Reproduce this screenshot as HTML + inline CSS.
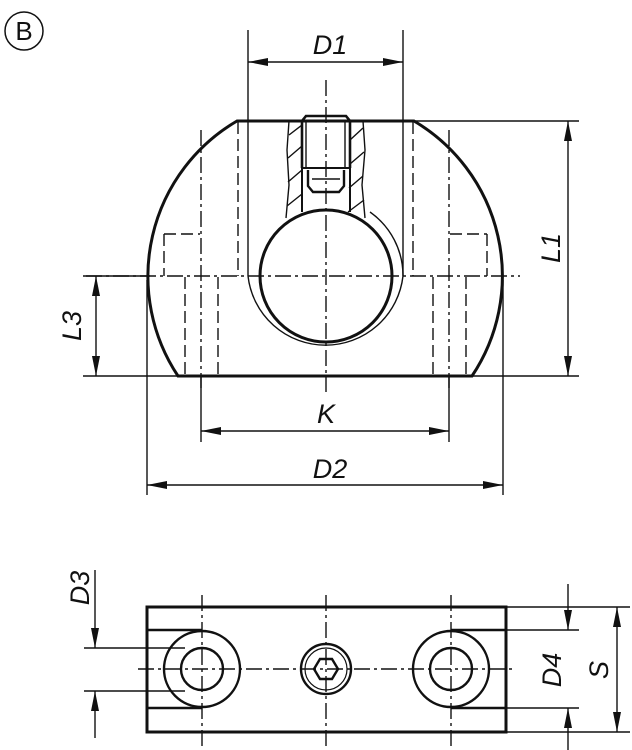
<!DOCTYPE html>
<html><head><meta charset="utf-8"><style>
html,body{margin:0;padding:0;background:#fff;}
svg{display:block;}
text{font-family:"Liberation Sans",sans-serif;font-style:italic;fill:#111;}
</style></head><body>
<svg width="632" height="750" viewBox="0 0 632 750" xmlns="http://www.w3.org/2000/svg">
<defs>
<marker id="a" viewBox="0 0 20 8" refX="20" refY="4" markerWidth="20" markerHeight="8" markerUnits="userSpaceOnUse" orient="auto-start-reverse"><path d="M0,0 L20,4 L0,8 z" fill="#111"/></marker>
</defs>
<g fill="none" stroke="#111">
<circle cx="24" cy="31" r="19" stroke-width="1.5"/>
<g stroke-width="1.4">
<line x1="248" y1="30" x2="248" y2="276"/>
<line x1="403" y1="30" x2="403" y2="276"/>
<line x1="248" y1="62" x2="403" y2="62" marker-start="url(#a)" marker-end="url(#a)"/>
<line x1="414" y1="121" x2="579" y2="121"/>
<line x1="472" y1="376" x2="579" y2="376"/>
<line x1="568" y1="121" x2="568" y2="376" marker-start="url(#a)" marker-end="url(#a)"/>
<line x1="83" y1="276" x2="150" y2="276"/>
<line x1="83" y1="376" x2="180" y2="376"/>
<line x1="96" y1="276" x2="96" y2="376" marker-start="url(#a)" marker-end="url(#a)"/>
<line x1="147" y1="280" x2="147" y2="495"/>
<line x1="503" y1="280" x2="503" y2="495"/>
<line x1="201" y1="376" x2="201" y2="442"/>
<line x1="449" y1="376" x2="449" y2="442"/>
<line x1="201" y1="431" x2="449" y2="431" marker-start="url(#a)" marker-end="url(#a)"/>
<line x1="147" y1="485" x2="503" y2="485" marker-start="url(#a)" marker-end="url(#a)"/>
<path d="M248,276 A78,78 0 0 0 403,276"/>
<path d="M403,276 A78,78 0 0 0 370,212"/>
<path d="M289,121 L287,150 L289,185 L286,218"/>
<path d="M363,121 L365,150 L362,185 L365,218"/>
<path d="M289,135 L302,125 M288,158 L302,146 M288,182 L302,170 M287,206 L302,194 M350,140 L363,128 M350,164 L364,152 M349,188 L363,176 M348,212 L364,200"/>
</g>
<g stroke-width="1.4" stroke-dasharray="16 4 3 4">
<line x1="326" y1="80" x2="326" y2="392"/>
<line x1="86" y1="276" x2="520" y2="276"/>
<line x1="201" y1="130" x2="201" y2="388"/>
<line x1="449" y1="130" x2="449" y2="388"/>
</g>
<g stroke-width="1.4" stroke-dasharray="12 5">
<line x1="238" y1="122" x2="238" y2="276"/>
<line x1="413" y1="122" x2="413" y2="276"/>
<line x1="185" y1="277" x2="185" y2="375"/>
<line x1="218" y1="277" x2="218" y2="375"/>
<line x1="433" y1="277" x2="433" y2="375"/>
<line x1="466" y1="277" x2="466" y2="375"/>
<line x1="164" y1="234" x2="200" y2="234"/>
<line x1="450" y1="234" x2="487" y2="234"/>
<line x1="164" y1="234" x2="164" y2="276"/>
<line x1="487" y1="234" x2="487" y2="276"/>
</g>
<path d="M237,121 L414,121 A180,180 0 0 1 472,376 L178,376 A180,180 0 0 1 237,121 Z" stroke-width="3"/>
<circle cx="326" cy="276" r="66" stroke-width="3"/>
<path d="M302,168 L302,121 L306,116 L346,116 L350,121 L350,168" stroke-width="2.6"/>
<line x1="306" y1="122" x2="306" y2="168" stroke-width="1.4"/>
<line x1="345" y1="122" x2="345" y2="168" stroke-width="1.4"/>
<line x1="302" y1="168" x2="350" y2="168" stroke-width="2"/>
<path d="M308,170 L308,186 L313,192 L339,192 L344,186 L344,170" stroke-width="2.4"/>
<line x1="312" y1="179" x2="340" y2="179" stroke-width="1.4"/>
<line x1="302" y1="168" x2="302" y2="212" stroke-width="2"/>
<line x1="350" y1="168" x2="350" y2="212" stroke-width="2"/>

<rect x="147" y="607" width="359" height="125" stroke-width="3"/>
<g stroke-width="2.4">
<path d="M148,630 L202,630 M148,708 L202,708"/>
<path d="M451,630 L505,630 M451,708 L505,708"/>
<circle cx="202" cy="669" r="38"/><circle cx="202" cy="669" r="21"/>
<circle cx="451" cy="669" r="38"/><circle cx="451" cy="669" r="21"/>
<circle cx="326" cy="669" r="25"/>
<polygon points="314,669 320,659 332,659 338,669 332,679 320,679"/>
</g>
<circle cx="326" cy="669" r="21" stroke-width="1.2"/>
<g stroke-width="1.4" stroke-dasharray="16 4 3 4">
<line x1="138" y1="669" x2="516" y2="669"/>
<line x1="202" y1="595" x2="202" y2="747"/>
<line x1="326" y1="595" x2="326" y2="747"/>
<line x1="451" y1="595" x2="451" y2="747"/>
</g>
<g stroke-width="1.4">
<line x1="84" y1="648" x2="185" y2="648"/>
<line x1="84" y1="691" x2="185" y2="691"/>
<line x1="95" y1="570" x2="95" y2="648" marker-end="url(#a)"/>
<line x1="95" y1="738" x2="95" y2="691" marker-end="url(#a)"/>
<line x1="505" y1="630" x2="579" y2="630"/>
<line x1="505" y1="708" x2="579" y2="708"/>
<line x1="506" y1="607" x2="630" y2="607"/>
<line x1="506" y1="732" x2="630" y2="732"/>
<line x1="568" y1="584" x2="568" y2="630" marker-end="url(#a)"/>
<line x1="568" y1="755" x2="568" y2="708" marker-end="url(#a)"/>
<line x1="617" y1="607" x2="617" y2="732" marker-start="url(#a)" marker-end="url(#a)"/>
</g>
</g>
<text x="24" y="40" font-size="26" style="font-style:normal" text-anchor="middle">B</text>
<text x="330" y="54" font-size="27" text-anchor="middle">D1</text>
<text x="326" y="423" font-size="27" text-anchor="middle">K</text>
<text x="330" y="478" font-size="27" text-anchor="middle">D2</text>
<text transform="translate(560,248) rotate(-90)" font-size="27" text-anchor="middle">L1</text>
<text transform="translate(81,326) rotate(-90)" font-size="27" text-anchor="middle">L3</text>
<text transform="translate(89,588) rotate(-90)" font-size="27" text-anchor="middle">D3</text>
<text transform="translate(561,670) rotate(-90)" font-size="27" text-anchor="middle">D4</text>
<text transform="translate(608,670) rotate(-90)" font-size="27" text-anchor="middle">S</text>
</svg>
</body></html>
